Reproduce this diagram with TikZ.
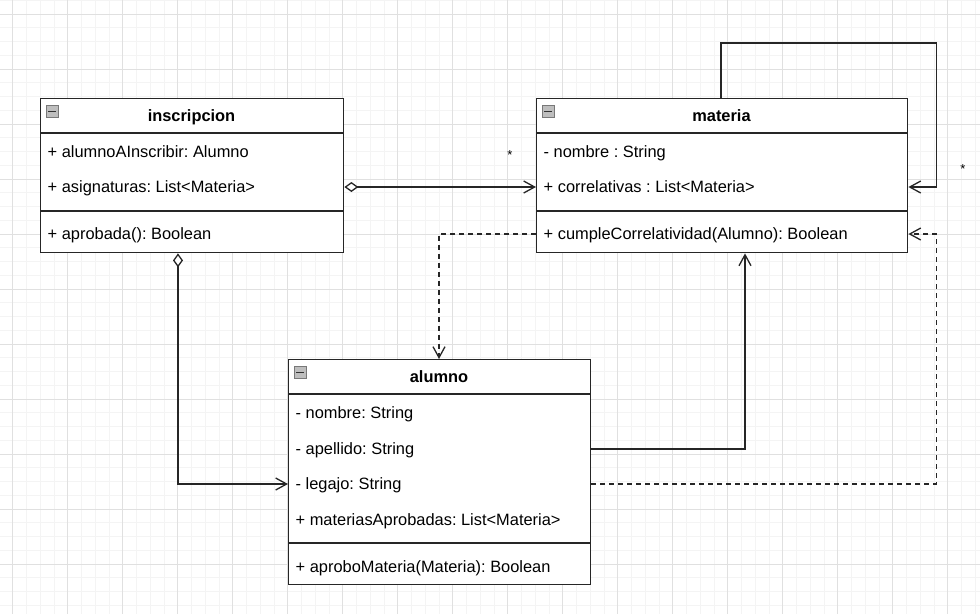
\documentclass[tikz,border=0pt]{standalone}
\usepackage{fontspec}
\setmainfont{Liberation Sans}
\frenchspacing
\definecolor{gridmajor}{RGB}{224,224,224}
\definecolor{gridminor}{RGB}{244,244,244}
\definecolor{umlline}{RGB}{38,38,38}
\definecolor{iconfill}{RGB}{190,190,190}
\definecolor{iconedge}{RGB}{120,120,120}
\usetikzlibrary{arrows.meta,positioning,calc}

\begin{document}
\begin{tikzpicture}[x=1pt, y=-1pt,
    font=\fontsize{16.4}{19}\selectfont,
    classbox/.style={draw=umlline, line width=1.4pt, fill=white, anchor=north west, inner sep=0pt},
    classtitle/.style={inner sep=0pt, text height=11.5pt, text depth=0pt, font=\fontsize{16.4}{19}\selectfont\bfseries},
    rowtext/.style={anchor=west, inner sep=0pt, text height=11.5pt, text depth=0pt},
    foldicon/.style={draw=iconedge, fill=iconfill, minimum size=12pt, inner sep=0pt, anchor=north west,
      path picture={\draw[black!80, line width=1.4pt] ([xshift=2pt]path picture bounding box.west) -- ([xshift=-2pt]path picture bounding box.east);}},
    mult/.style={inner sep=0pt, font=\fontsize{13}{15}\selectfont},
    navig/.style={draw=umlline, line width=1.3pt, -{Straight Barb[length=11pt,width=12pt]}},
    aggr/.style={draw=umlline, line width=1.3pt, {Diamond[fill=white,length=14pt,width=10pt]}-{Straight Barb[length=11pt,width=12pt]}},
    depend/.style={navig, dash pattern=on 5pt off 4pt}]

  \useasboundingbox (0,0) rectangle (980,614);
  \fill[white] (0,0) rectangle (980,614);
  \foreach \i in {0,...,72} \draw[gridminor, line width=0.8pt] ({-1.05+13.75*\i},0) -- ++(0,614);
  \foreach \i in {0,...,45} \draw[gridminor, line width=0.8pt] (0,{0.25+13.75*\i}) -- ++(980,0);
  \foreach \i in {0,...,17} \draw[gridmajor, line width=0.9pt] ({12.7+55*\i},0) -- ++(0,614);
  \foreach \i in {0,...,10} \draw[gridmajor, line width=0.9pt] (0,{14+55*\i}) -- ++(980,0);

  % inscripcion
  \node[classbox, minimum width=303pt, minimum height=154pt] (insc) at (40,98) {};
  \draw[umlline, line width=1.4pt] ([yshift=-35pt]insc.north west) -- ([yshift=-35pt]insc.north east);
  \draw[umlline, line width=1.4pt] ([yshift=-113pt]insc.north west) -- ([yshift=-113pt]insc.north east);
  \node[foldicon] (inscIcon) at (46,105) {};
  \node[classtitle] (inscTitle) at (191.5,116) {inscripcion};
  \node[rowtext] (inscAlum) at (47.5,152) {+ alumnoAInscribir: Alumno};
  \node[rowtext] (inscAsig) at (47.5,187) {+ asignaturas: List<Materia>};
  \node[rowtext] (inscAprob) at (47.5,234) {+ aprobada(): Boolean};

  % materia
  \node[classbox, minimum width=371pt, minimum height=154pt] (mat) at (536,98) {};
  \draw[umlline, line width=1.4pt] ([yshift=-35pt]mat.north west) -- ([yshift=-35pt]mat.north east);
  \draw[umlline, line width=1.4pt] ([yshift=-113pt]mat.north west) -- ([yshift=-113pt]mat.north east);
  \node[foldicon] (matIcon) at (542,105) {};
  \node[classtitle] (matTitle) at (721.5,116) {materia};
  \node[rowtext] (matNom) at (543.5,152) {- nombre : String};
  \node[rowtext] (matCorr) at (543.5,187) {+ correlativas : List<Materia>};
  \node[rowtext] (matCumple) at (543.5,234) {+ cumpleCorrelatividad(Alumno): Boolean};

  % alumno
  \node[classbox, minimum width=302pt, minimum height=225pt] (alum) at (288,359) {};
  \draw[umlline, line width=1.4pt] ([yshift=-35pt]alum.north west) -- ([yshift=-35pt]alum.north east);
  \draw[umlline, line width=1.4pt] ([yshift=-184pt]alum.north west) -- ([yshift=-184pt]alum.north east);
  \node[foldicon] (alumIcon) at (294,366) {};
  \node[classtitle] (alumTitle) at (439,377) {alumno};
  \node[rowtext] (alumNom) at (295.5,413) {- nombre: String};
  \node[rowtext] (alumApe) at (295.5,449) {- apellido: String};
  \node[rowtext] (alumLeg) at (295.5,484) {- legajo: String};
  \node[rowtext] (alumMat) at (295.5,520) {+ materiasAprobadas: List<Materia>};
  \node[rowtext] (alumAprob) at (295.5,567) {+ aproboMateria(Materia): Boolean};

  \coordinate (loopR) at ($(mat.east |- matCorr)+(28,0)$);
  \node[mult] (multAsig) at (510,155) {*};
  \node[mult] (multCorr) at (963,169) {*};

  \draw[aggr] (insc.east |- inscAsig) -- (mat.west |- matCorr);
  \draw[aggr] ([xshift=138pt]insc.south west) |- (alum.west |- alumLeg);
  \draw[navig] ([xshift=185pt]mat.north west) -- ++(0,-55) -| (loopR) -- (mat.east |- matCorr);
  \draw[navig] (alum.east |- alumApe) -| ([xshift=209pt]mat.south west);
  \draw[depend] (mat.west |- matCumple) -| ([xshift=151pt]alum.north west);
  \draw[depend] (alum.east |- alumLeg) -| (loopR |- matCumple) -- (mat.east |- matCumple);
\end{tikzpicture}
\end{document}
